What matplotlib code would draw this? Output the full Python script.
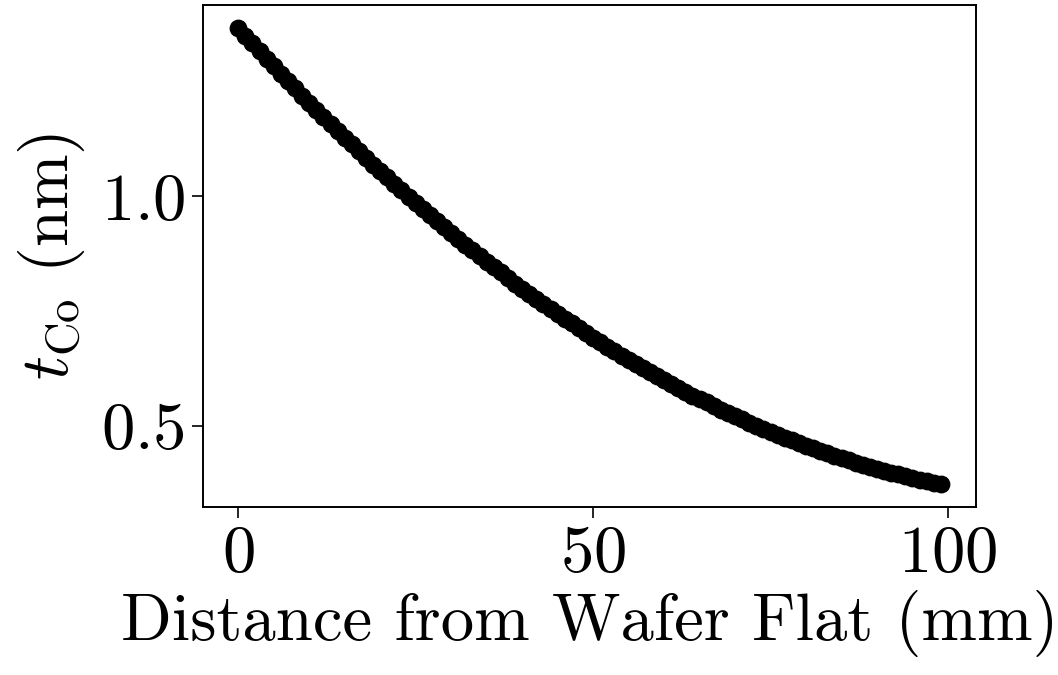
import numpy as np
import matplotlib
matplotlib.use("Agg")
import matplotlib.pyplot as plt

# Style: Computer Modern look without LaTeX
plt.rcParams['font.family'] = 'serif'
plt.rcParams['font.serif'] = ['cmr10']
plt.rcParams['mathtext.fontset'] = 'cm'
plt.rcParams['axes.formatter.use_mathtext'] = True

# Distance from wafer flat (mm), one point per mm
distance = list(range(100))

# Co thickness (nm)
t_co = [
    1.367, 1.350, 1.333, 1.317, 1.300, 1.284, 1.267, 1.251, 1.235, 1.219,
    1.204, 1.188, 1.173, 1.158, 1.142, 1.127, 1.113, 1.098, 1.083, 1.069,
    1.055, 1.041, 1.027, 1.013, 0.999, 0.985, 0.972, 0.959, 0.946, 0.933,
    0.920, 0.907, 0.894, 0.882, 0.870, 0.857, 0.845, 0.834, 0.822, 0.810,
    0.799, 0.787, 0.776, 0.765, 0.754, 0.744, 0.733, 0.723, 0.712, 0.702,
    0.692, 0.682, 0.672, 0.663, 0.653, 0.644, 0.635, 0.626, 0.617, 0.608,
    0.599, 0.591, 0.583, 0.574, 0.566, 0.558, 0.551, 0.543, 0.535, 0.528,
    0.521, 0.514, 0.507, 0.500, 0.493, 0.487, 0.481, 0.474, 0.468, 0.462,
    0.456, 0.451, 0.445, 0.440, 0.435, 0.430, 0.425, 0.420, 0.415, 0.411,
    0.406, 0.402, 0.398, 0.394, 0.390, 0.386, 0.383, 0.379, 0.376, 0.373,
]

fig = plt.figure(figsize=(10.58, 6.75), dpi=100)
ax = fig.add_axes([0.192, 0.249, 0.7305, 0.7436])

ax.scatter(distance, t_co, s=140, color='black', zorder=3)

ax.set_xticks([0, 50, 100])
ax.set_yticks([0.5, 1.0])
ax.tick_params(labelsize=48, length=8, width=1.2, pad=5)
for s in ax.spines.values():
    s.set_linewidth(1.4)

ax.set_xlabel('Distance from Wafer Flat (mm)', fontsize=48, labelpad=4)
ax.set_ylabel(r'$t_{\rm Co}$ (nm)', fontsize=48, labelpad=10)

fig.savefig('out.png', dpi=100)
